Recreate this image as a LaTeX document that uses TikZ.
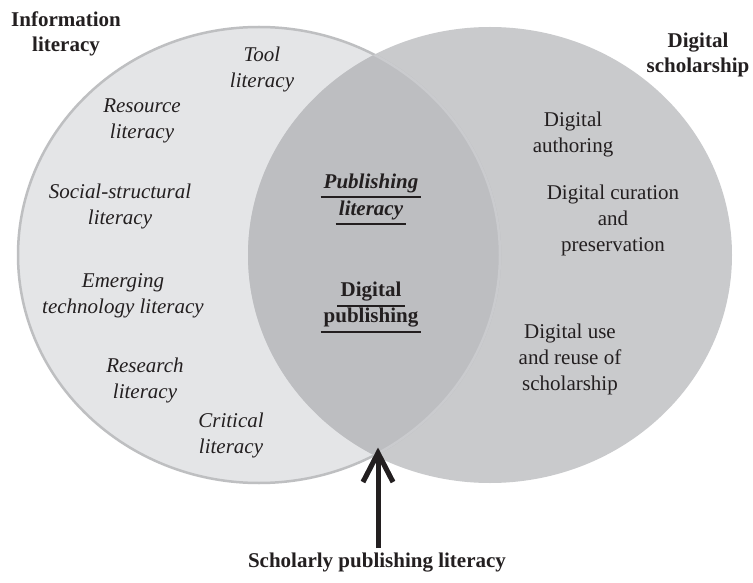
\documentclass[tikz,border=0pt]{standalone}
\usepackage{fontspec}
\setmainfont{Liberation Serif}
\usetikzlibrary{arrows.meta}
\definecolor{leftfill}{HTML}{E4E5E7}
\definecolor{leftedge}{HTML}{BEBFC1}
\definecolor{rightfill}{HTML}{C9CACC}
\definecolor{lensfill}{HTML}{BDBEC1}
\definecolor{ink}{HTML}{231F20}
\definecolor{shadowgray}{HTML}{A8A9AB}
\begin{document}
\begin{tikzpicture}[x=1pt,y=-1pt,
  rmtxt/.style={text=ink, align=center, inner sep=0pt, font=\fontsize{21}{26}\selectfont},
  ittxt/.style={text=ink, align=center, inner sep=0pt, font=\fontsize{21}{26}\selectfont\itshape},
  bftxt/.style={text=ink, align=center, inner sep=0pt, font=\fontsize{21}{25}\selectfont\bfseries},
  bitxt/.style={text=ink, align=center, inner sep=0pt, font=\fontsize{21}{26}\selectfont\bfseries\itshape},
  uline/.style={draw=ink, line width=2pt},
  shaft/.style={draw=ink, line width=5pt},
  chevron/.style={draw=ink, line width=5pt, miter limit=10},
  shaftshadow/.style={draw=shadowgray, line width=5pt},
  chevshadow/.style={draw=shadowgray, line width=5pt, miter limit=10}
]
\useasboundingbox (0,0) rectangle (753,583);
\fill[white] (0,0) rectangle (753,583);
% circles
\fill[leftfill] (259,255) ellipse [x radius=241pt, y radius=228pt];
\fill[rightfill] (490,255) ellipse [x radius=242pt, y radius=228pt];
\begin{scope}
  \clip (259,255) ellipse [x radius=241pt, y radius=228pt];
  \fill[lensfill] (490,255) ellipse [x radius=242pt, y radius=228pt];
\end{scope}
\draw[leftedge, line width=2.5pt] (259,255) ellipse [x radius=241pt, y radius=228pt];
\begin{scope}
  \clip (490,255) ellipse [x radius=242pt, y radius=228pt];
  \draw[lensfill!80!white, line width=2.5pt] (259,255) ellipse [x radius=241pt, y radius=228pt];
\end{scope}

% headings
\node[bftxt] (info) at (66,34) {Information\\literacy};
\node[bftxt] (dschol) at (698,55) {Digital\\scholarship};

% left items
\node[ittxt] (tool) at (262,69) {Tool\\literacy};
\node[ittxt] (resource) at (142,121) {Resource\\literacy};
\node[ittxt] (social) at (120,206) {Social-structural\\literacy};
\node[ittxt] (emerging) at (123,296) {Emerging\\technology literacy};
\node[ittxt] (research) at (145,380) {Research\\literacy};
\node[ittxt] (critical) at (231,435) {Critical\\literacy};

% centre items
\node[bitxt] (pub1) at (371,183) {Publishing};
\node[bitxt] (pub2) at (371,210) {literacy};
\node[bftxt] (dp1) at (371,292) {Digital};
\node[bftxt] (dp2) at (371,318) {publishing};
\draw[uline] ([xshift=-3pt,yshift=-4pt]pub1.south west) -- ([xshift=3pt,yshift=-4pt]pub1.south east);
\draw[uline] ([xshift=-3pt,yshift=-4pt]pub2.south west) -- ([xshift=3pt,yshift=-4pt]pub2.south east);
\draw[uline] ([xshift=-3pt,yshift=-4pt]dp1.south west) -- ([xshift=3pt,yshift=-4pt]dp1.south east);
\draw[uline] ([xshift=-3pt,yshift=-4pt]dp2.south west) -- ([xshift=3pt,yshift=-4pt]dp2.south east);

% right items
\node[rmtxt] (authoring) at (573,134) {Digital\\authoring};
\node[rmtxt] (curation) at (613,220) {Digital curation\\and\\preservation};
\node[rmtxt] (reuse) at (570,359) {Digital use\\and reuse of\\scholarship};

% bottom label and arrow
\node[bftxt] (spl) at (377,563) {Scholarly publishing literacy};
\coordinate (tip) at (378,453);
\coordinate (tail) at (378,548);
\begin{scope}[shift={(1.5,1.5)}]
  \draw[shaftshadow] (tail) -- (tip);
  \draw[chevshadow] ([shift={(-15,29)}]tip) -- (tip) -- ([shift={(15,29)}]tip);
\end{scope}
\draw[shaft] (tail) -- (tip);
\draw[chevron] ([shift={(-15,29)}]tip) -- (tip) -- ([shift={(15,29)}]tip);
\end{tikzpicture}
\end{document}
